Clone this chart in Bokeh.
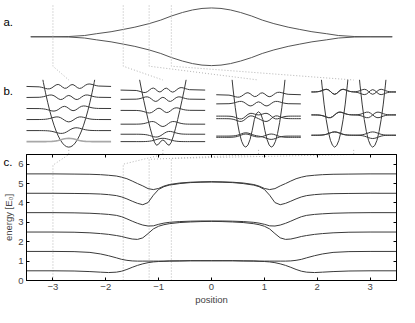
from bokeh.plotting import figure
from bokeh.models import Range1d, LinearAxis, FixedTicker
from bokeh.core.properties import value
from bokeh.embed import file_html
from bokeh.resources import INLINE

FONT = "Liberation Sans"

# ---------------- panel c : energy levels vs position ----------------
POS = [-3.5, -3.0, -2.6, -2.3, -2.1, -1.95, -1.8, -1.7, -1.6, -1.5, -1.4, -1.3, -1.2, -1.1, -1.0, -0.9, -0.8, -0.6, -0.4, -0.2, 0.0,
       0.2, 0.4, 0.6, 0.8, 0.9, 1.0, 1.1, 1.2, 1.3, 1.4, 1.5, 1.6, 1.7, 1.8, 1.95, 2.1, 2.3, 2.6, 3.0, 3.5]
LEVEL_0 = [0.50, 0.50, 0.49, 0.46, 0.43, 0.41, 0.43, 0.48, 0.57, 0.68, 0.78, 0.86, 0.92, 0.96, 0.98, 0.99, 1.00, 1.01, 1.02, 1.02, 1.02,
           1.02, 1.02, 1.01, 1.00, 0.99, 0.98, 0.96, 0.92, 0.86, 0.78, 0.68, 0.57, 0.48, 0.43, 0.41, 0.43, 0.46, 0.49, 0.50, 0.50]
LEVEL_1 = [1.50, 1.50, 1.49, 1.45, 1.37, 1.28, 1.17, 1.09, 1.04, 1.01, 1.00, 1.00, 1.00, 1.00, 1.00, 1.00, 1.01, 1.01, 1.02, 1.02, 1.02,
           1.02, 1.02, 1.01, 1.01, 1.00, 1.00, 1.00, 1.00, 1.00, 1.00, 1.01, 1.04, 1.09, 1.17, 1.28, 1.37, 1.45, 1.49, 1.50, 1.50]
LEVEL_2 = [2.50, 2.50, 2.49, 2.46, 2.42, 2.38, 2.32, 2.27, 2.20, 2.14, 2.12, 2.20, 2.42, 2.66, 2.80, 2.88, 2.93, 2.99, 3.02, 3.04, 3.05,
           3.04, 3.02, 2.99, 2.93, 2.88, 2.80, 2.66, 2.42, 2.20, 2.12, 2.14, 2.20, 2.27, 2.32, 2.38, 2.42, 2.46, 2.49, 2.50, 2.50]
LEVEL_3 = [3.50, 3.50, 3.49, 3.47, 3.44, 3.41, 3.36, 3.29, 3.18, 3.06, 2.95, 2.86, 2.81, 2.82, 2.90, 2.96, 3.00, 3.04, 3.06, 3.07, 3.07,
           3.07, 3.06, 3.04, 3.00, 2.96, 2.90, 2.82, 2.81, 2.86, 2.95, 3.06, 3.18, 3.29, 3.36, 3.41, 3.44, 3.47, 3.49, 3.50, 3.50]
LEVEL_4 = [4.50, 4.50, 4.49, 4.48, 4.46, 4.43, 4.38, 4.31, 4.21, 4.09, 3.98, 3.91, 4.02, 4.40, 4.70, 4.84, 4.92, 5.00, 5.05, 5.07, 5.08,
           5.07, 5.05, 5.00, 4.92, 4.84, 4.70, 4.40, 4.02, 3.91, 3.98, 4.09, 4.21, 4.31, 4.38, 4.43, 4.46, 4.48, 4.49, 4.50, 4.50]
LEVEL_5 = [5.50, 5.50, 5.49, 5.48, 5.46, 5.43, 5.39, 5.33, 5.25, 5.13, 5.00, 4.88, 4.74, 4.69, 4.75, 4.87, 4.95, 5.03, 5.07, 5.09, 5.10,
           5.09, 5.07, 5.03, 4.95, 4.87, 4.75, 4.69, 4.74, 4.88, 5.00, 5.13, 5.25, 5.33, 5.39, 5.43, 5.46, 5.48, 5.49, 5.50, 5.50]
LEVELS = [LEVEL_0, LEVEL_1, LEVEL_2, LEVEL_3, LEVEL_4, LEVEL_5]
X_TICKS = [-3, -2, -1, 0, 1, 2, 3]
Y_TICKS = [0, 1, 2, 3, 4, 5, 6]

# ---------------- panel a : well minima vs position ----------------
ENV_X = [-3.42, -3.0, -2.7, -2.4, -2.18, -1.9, -1.67, -1.45, -1.18, -0.96, -0.76, -0.55, -0.36, -0.18, 0.0,
         0.18, 0.36, 0.55, 0.76, 0.96, 1.18, 1.45, 1.67, 1.9, 2.18, 2.4, 2.7, 3.0, 3.42]
ENV_D = [0.0, 0.0, 0.005, 0.025, 0.06, 0.10, 0.145, 0.19, 0.26, 0.33, 0.41, 0.48, 0.53, 0.56, 0.57,
         0.56, 0.53, 0.48, 0.41, 0.33, 0.26, 0.19, 0.145, 0.10, 0.06, 0.025, 0.005, 0.0, 0.0]

# positions shown in panel b, and where their sketches sit
CUTS = [-3.0, -1.67, -1.18, -0.76]
SUB_X = [-2.7, -0.92, 0.89, 2.69]
KNEE = [5.95, 6.0, 6.25, 6.3]
PANEL_LABELS = ["a.", "b.", "c."]

# ---------------- panel b : potentials and wavefunctions ----------------
U_WIDE = [-0.56, -0.52, -0.48, -0.44, -0.40, -0.36, -0.32, -0.28, -0.24, -0.20, -0.16, -0.12, -0.08, -0.04, 0.0,
          0.04, 0.08, 0.12, 0.16, 0.20, 0.24, 0.28, 0.32, 0.36, 0.40, 0.44, 0.48, 0.52, 0.56]
W0 = [0.000, 0.001, 0.002, 0.005, 0.013, 0.028, 0.055, 0.102, 0.173, 0.271, 0.391, 0.520, 0.638, 0.721, 0.751,
      0.721, 0.638, 0.520, 0.391, 0.271, 0.173, 0.102, 0.055, 0.028, 0.013, 0.005, 0.002, 0.001, 0.000]
W1 = [-0.001, -0.004, -0.010, -0.024, -0.051, -0.100, -0.178, -0.287, -0.419, -0.548, -0.632, -0.630, -0.515, -0.292, 0.0,
      0.292, 0.515, 0.630, 0.632, 0.548, 0.419, 0.287, 0.178, 0.100, 0.051, 0.024, 0.010, 0.004, 0.001]
W2 = [0.006, 0.014, 0.033, 0.071, 0.138, 0.239, 0.368, 0.503, 0.597, 0.591, 0.446, 0.173, -0.157, -0.427, -0.531,
      -0.427, -0.157, 0.173, 0.446, 0.591, 0.597, 0.503, 0.368, 0.239, 0.138, 0.071, 0.033, 0.014, 0.006]
W3 = [-0.017, -0.040, -0.085, -0.164, -0.279, -0.419, -0.542, -0.587, -0.492, -0.242, 0.100, 0.394, 0.494, 0.337, 0.0,
      -0.337, -0.494, -0.394, -0.100, 0.242, 0.492, 0.587, 0.542, 0.419, 0.279, 0.164, 0.085, 0.040, 0.017]
W4 = [0.043, 0.093, 0.178, 0.302, 0.445, 0.555, 0.557, 0.394, 0.081, -0.267, -0.467, -0.388, -0.064, 0.301, 0.460,
      0.301, -0.064, -0.388, -0.467, -0.267, 0.081, 0.394, 0.557, 0.555, 0.445, 0.302, 0.178, 0.093, 0.043]
W5 = [-0.093, -0.182, -0.310, -0.453, -0.554, -0.528, -0.320, 0.026, 0.352, 0.459, 0.248, -0.141, -0.419, -0.356, 0.0,
      0.356, 0.419, 0.141, -0.248, -0.459, -0.352, -0.026, 0.320, 0.528, 0.554, 0.453, 0.310, 0.182, 0.093]
WIDE = [W0, W1, W2, W3, W4, W5]

U_NARROW = [-0.36, -0.32, -0.28, -0.24, -0.20, -0.16, -0.12, -0.08, -0.04, 0.0, 0.04, 0.08, 0.12, 0.16, 0.20, 0.24, 0.28, 0.32, 0.36]
N0 = [0.001, 0.004, 0.014, 0.040, 0.098, 0.203, 0.360, 0.542, 0.692, 0.751, 0.692, 0.542, 0.360, 0.203, 0.098, 0.040, 0.014, 0.004, 0.001]
N1 = [-0.005, -0.018, -0.055, -0.136, -0.279, -0.464, -0.617, -0.619, -0.395, 0.0, 0.395, 0.619, 0.617, 0.464, 0.279, 0.136, 0.055, 0.018, 0.005]
N2 = [0.018, 0.057, 0.146, 0.303, 0.494, 0.606, 0.493, 0.117, -0.329, -0.531, -0.329, 0.117, 0.493, 0.606, 0.494, 0.303, 0.146, 0.057, 0.018]
NARROW = [N0, N1, N2]

U_LINE = [-0.80, -0.76, -0.72, -0.68, -0.64, -0.60, -0.56, -0.52, -0.48, -0.44, -0.40, -0.36, -0.32, -0.28, -0.24, -0.20, -0.16,
          -0.12, -0.08, -0.04, 0.0, 0.04, 0.08, 0.12, 0.16, 0.20, 0.24, 0.28, 0.32, 0.36, 0.40, 0.44, 0.48, 0.52, 0.56, 0.60,
          0.64, 0.68, 0.72, 0.76, 0.80]

# potentials (energy vs offset from sketch centre)
P1_U = [-0.49, -0.48, -0.44, -0.40, -0.36, -0.32, -0.28, -0.24, -0.20, -0.16, -0.12, -0.08, -0.04, 0.0,
        0.04, 0.08, 0.12, 0.16, 0.20, 0.24, 0.28, 0.32, 0.36, 0.40, 0.44, 0.48, 0.49]
P1_V = [6.10, 5.85, 4.92, 4.07, 3.29, 2.60, 1.99, 1.46, 1.02, 0.65, 0.37, 0.16, 0.04, 0.00,
        0.04, 0.16, 0.37, 0.65, 1.02, 1.46, 1.99, 2.60, 3.29, 4.07, 4.92, 5.85, 6.10]
P2_U = [-0.44, -0.40, -0.36, -0.32, -0.28, -0.24, -0.20, -0.16, -0.12, -0.08, -0.04, 0.0,
        0.04, 0.08, 0.12, 0.16, 0.20, 0.24, 0.28, 0.32, 0.36, 0.40, 0.44]
P2_V = [6.10, 5.10, 4.20, 3.33, 2.50, 1.72, 1.02, 0.45, 0.17, 0.27, 0.53, 0.65,
        0.53, 0.27, 0.17, 0.45, 1.02, 1.72, 2.50, 3.33, 4.20, 5.10, 6.10]
P3_U = [-0.50, -0.48, -0.44, -0.40, -0.36, -0.32, -0.28, -0.24, -0.20, -0.16, -0.12, -0.08, -0.04, 0.0,
        0.04, 0.08, 0.12, 0.16, 0.20, 0.24, 0.28, 0.32, 0.36, 0.40, 0.44, 0.48, 0.50]
P3_V = [6.10, 5.18, 3.57, 2.25, 1.24, 0.53, 0.12, 0.00, 0.20, 0.70, 1.50, 2.50, 3.05, 3.20,
        3.05, 2.50, 1.50, 0.70, 0.20, 0.00, 0.12, 0.53, 1.24, 2.25, 3.57, 5.18, 6.10]
P4_U = [-0.61, -0.60, -0.56, -0.52, -0.48, -0.44, -0.40, -0.36, -0.32, -0.28, -0.24, -0.20, -0.16, -0.12, -0.11, None,
        0.11, 0.12, 0.16, 0.20, 0.24, 0.28, 0.32, 0.36, 0.40, 0.44, 0.48, 0.52, 0.56, 0.60, 0.61]
P4_V = [6.10, 5.62, 3.90, 2.50, 1.41, 0.62, 0.16, 0.00, 0.16, 0.62, 1.41, 2.50, 3.90, 5.62, 6.10, None,
        6.10, 5.62, 3.90, 2.50, 1.41, 0.62, 0.16, 0.00, 0.16, 0.62, 1.41, 2.50, 3.90, 5.62, 6.10]

# energies of drawn states
S1_E = [0.5, 1.5, 2.5, 3.5, 4.5, 5.5]
S2_E = [0.5, 1.17, 2.08, 3.33, 4.33, 5.17]
S3_E_UP = [3.92, 4.75]
S3_PAIRS = [(0.89, 1.0), (2.58, 2.81)]
S4_PAIRS = [(1.08, 1.08), (2.92, 2.92), (5.0, 5.0)]

# ---------------- layout ----------------
W, H = 399, 307
LB, RB, TB, BB = 26, 3, 154, 23
SX = 399 / 415.0                 # reference -> page horizontal scale
PPU = (W - LB - RB) / 7.0        # page px per position unit
X0 = LB + 3.5 * PPU              # page x of position 0
RPU = 137 / 6.5                  # reference px per energy unit (panel c)
LINE = "#3a3a3a"
DOT = "#b4b4b4"
AMP = 0.4                        # drawing amplitude of wavefunctions (energy units)


def ref_x(px):
    return (px * SX - X0) / PPU


def ref_y(py):
    return (299 - py) / RPU


def e2y(e):                      # sketch energy -> data y (sketch zero at reference px 154, 12 px per unit)
    return ref_y(154 - 12 * e)


p = figure(width=W, height=H, x_range=Range1d(-3.5, 3.5), y_range=Range1d(0, 6.5),
           output_backend="svg", toolbar_location=None,
           min_border_left=LB, min_border_right=RB, min_border_top=TB, min_border_bottom=BB)
p.grid.visible = False
p.outline_line_color = "black"
p.background_fill_color = None
p.border_fill_color = None


def over(r):
    r.level = "overlay"
    return r


# panel labels
over(p.text(x=[ref_x(3)] * 3, y=[ref_y(18), ref_y(93), ref_y(170)], text=PANEL_LABELS,
            text_font=value(FONT), text_font_size=value("11.5px"), text_color="black",
            text_baseline="alphabetic", text_align="left"))

# panel a
over(p.line(ENV_X, [ref_y(34 - 55 * d) for d in ENV_D], line_color="#555555", line_width=1))
over(p.line(ENV_X, [ref_y(34 + 55 * d) for d in ENV_D], line_color="#555555", line_width=1))

# dotted connectors
for xc, xs, kn in zip(CUTS, SUB_X, KNEE):
    over(p.line([xc, xc, xs], [ref_y(0), ref_y(66), ref_y(81)], line_color=DOT, line_dash="1 2", line_width=1))
    over(p.line([xs, xs], [ref_y(157), 6.5], line_color=DOT, line_dash="1 2", line_width=1))
    p.line([xc, xc, xs], [0, kn, 6.5], line_color=DOT, line_dash="1 2", line_width=1)


def pot(cx, us, vs, sc=1.0):
    xs = [float('nan') if u is None else cx + u * sc for u in us]
    ys = [float('nan') if v is None else e2y(v) for v in vs]
    over(p.line(xs, ys, line_color=LINE, line_width=1))


def wide_state(cx, e, shape, sc=1.0, color=LINE, lw=1.0):
    xs = [cx - 0.8] + [cx + u * sc for u in U_WIDE] + [cx + 0.8]
    ys = [e2y(e)] + [e2y(e + AMP * w) for w in shape] + [e2y(e)]
    over(p.line(xs, ys, line_color=color, line_width=lw))


def pair_state(cx, e, shape, cl, cr, sr):
    ys = []
    for u in U_LINE:
        tot = 0.0
        for c, sgn in ((cl, 1.0), (cr, sr)):
            k = round((u - c - U_NARROW[0]) / 0.04)
            if 0 <= k < len(U_NARROW):
                tot += sgn * shape[k]
        ys.append(e2y(e + AMP * tot))
    over(p.line([cx + u for u in U_LINE], ys, line_color=LINE, line_width=1))


# sketch 1: harmonic well
pot(SUB_X[0], P1_U, P1_V)
for n, e in enumerate(S1_E):
    if n == 0:
        wide_state(SUB_X[0], e, WIDE[n], color="#a8a8a8", lw=1.6)
    else:
        wide_state(SUB_X[0], e, WIDE[n])

# sketch 2: shallow double well
pot(SUB_X[1], P2_U, P2_V)
for n, e in enumerate(S2_E):
    wide_state(SUB_X[1], e, WIDE[n], sc=0.9)

# sketch 3: double well with barrier
pot(SUB_X[2], P3_U, P3_V)
for n, (ea, eb) in enumerate(S3_PAIRS):
    pair_state(SUB_X[2], ea, NARROW[n], -0.24, 0.24, 1.0)
    pair_state(SUB_X[2], eb, NARROW[n], -0.24, 0.24, -1.0)
for n, e in zip((4, 5), S3_E_UP):
    wide_state(SUB_X[2], e, WIDE[n])

# sketch 4: two separated wells
pot(SUB_X[3], P4_U, P4_V)
for n, (ea, eb) in enumerate(S4_PAIRS):
    pair_state(SUB_X[3], ea, NARROW[n], -0.36, 0.36, 1.0)
    pair_state(SUB_X[3], eb, NARROW[n], -0.36, 0.36, -1.0)

# panel c curves
for lev in LEVELS:
    p.line(POS, lev, line_color=LINE, line_width=1)

minus = {t: ("\u2212%d" % -t if t < 0 else "%d" % t) for t in X_TICKS}
ax = p.xaxis[0]
ax.ticker = FixedTicker(ticks=X_TICKS)
ax.major_label_overrides = minus
ax.axis_label = "position"
ay = p.yaxis[0]
ay.ticker = FixedTicker(ticks=Y_TICKS)
ay.axis_label = "energy [E\u2080]"
for a in (ax, ay):
    a.major_tick_in = 3
    a.major_tick_out = 0
    a.minor_tick_line_color = None
    a.major_label_standoff = 3
    a.axis_label_standoff = 1
    a.major_label_text_font = FONT
    a.major_label_text_font_size = "9.5px"
    a.axis_label_text_font = FONT
    a.axis_label_text_font_size = "9.5px"
    a.axis_label_text_font_style = "normal"
    a.axis_line_color = "black"
    a.major_tick_line_color = "black"

for loc, ticks in (("above", X_TICKS), ("right", Y_TICKS)):
    ex = LinearAxis(ticker=FixedTicker(ticks=ticks), major_tick_in=3, major_tick_out=0,
                    minor_tick_line_color=None, major_label_text_font_size="1px",
                    major_label_text_color=None, major_label_standoff=0, axis_line_color="black")
    p.add_layout(ex, loc)

open("out.html", "w").write(file_html(p, INLINE))
